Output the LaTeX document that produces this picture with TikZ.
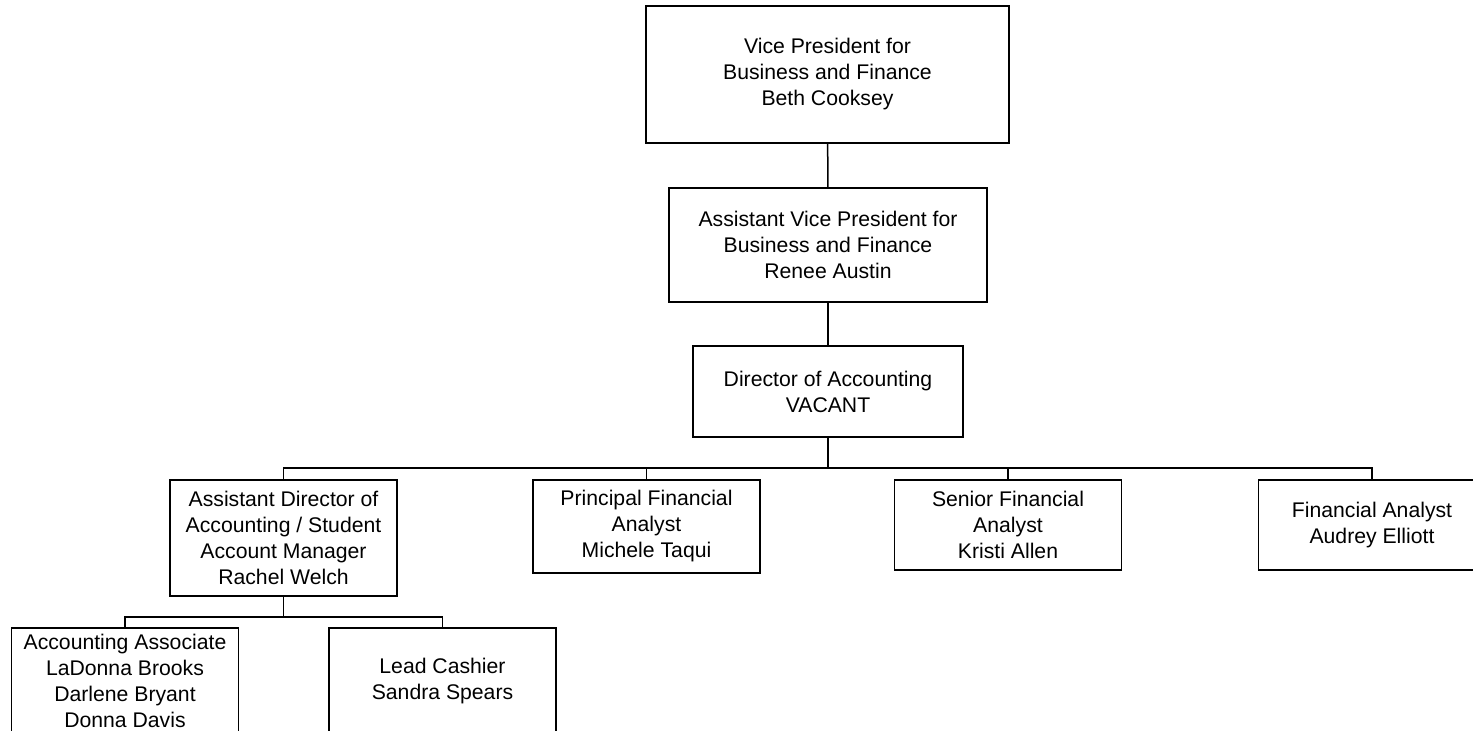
\documentclass[tikz,border=0pt]{standalone}
\usepackage{fontspec}
\setmainfont{Liberation Sans}
\usepackage{tikz}
\usetikzlibrary{positioning, calc}

\begin{document}
\begin{tikzpicture}[x=1pt, y=-1pt,
            post/.style={draw, line width=1.5pt, align=center, inner sep=0pt,
                minimum width=227pt, font=\fontsize{21.2}{26}\selectfont},
            wire/.style={line width=1.5pt}]
            \clip (0,0) rectangle (1473,731);
            % top of the chart
            \node[post, minimum width=363pt, minimum height=137pt] (vp) at (827.5,74.5)
                {Vice President for\\Business and Finance\\Beth Cooksey};
            \node[post, minimum width=318pt, minimum height=114pt] (avp) at (828,245)
                {Assistant Vice President for\\Business and Finance\\Renee Austin};
            \node[post, minimum width=270pt, minimum height=91pt] (dir) at (828,391.5)
                {Director of Accounting\\VACANT};
            % staff under the director
            \node[post, minimum height=116pt] (ad) at (283.5,538)
                {Assistant Director of\\Accounting / Student\\Account Manager\\Rachel Welch};
            \node[post, minimum height=93pt] (pfa) at (646.5,526.5)
                {Principal Financial\\Analyst\\Michele Taqui};
            \node[post, minimum height=90pt] (sfa) at (1008,525)
                {Senior Financial\\Analyst\\Kristi Allen};
            \node[post, minimum height=90pt] (fa) at (1372,525)
                {Financial Analyst\\Audrey Elliott};
            % staff under the assistant director
            \node[post, minimum height=106pt] (aa) at (125,681)
                {Accounting Associate\\LaDonna Brooks\\Darlene Bryant\\Donna Davis};
            \node[post, minimum height=106pt] (lc) at (442.5,681)
                {Lead Cashier\\Sandra Spears};
            \coordinate (busA) at (828,468);
            \coordinate (busB) at (283.5,617);
            \draw[wire] (vp) -- (avp);
            \draw[wire] (avp) -- (dir);
            \draw[wire] (dir.south) -- (busA);
            \foreach \n in {ad,pfa,sfa,fa} {
                \draw[wire] (busA) -| (\n.north);
            }
            \draw[wire] (ad.south) -- (busB);
            \foreach \n in {aa,lc} {
                \draw[wire] (busB) -| (\n.north);
            }
        \end{tikzpicture}
\end{document}
